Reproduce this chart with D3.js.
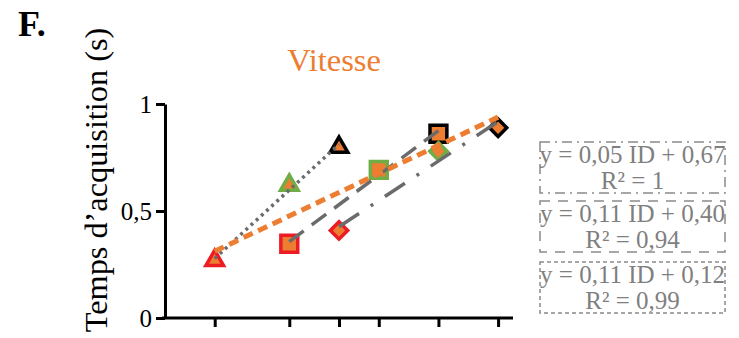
<!DOCTYPE html>
<html>
<head>
<meta charset="utf-8">
<script src="https://cdn.jsdelivr.net/npm/d3@7"></script>
<style>
  html, body { margin: 0; padding: 0; background: #fff; }
  svg text { font-family: "Liberation Serif", "DejaVu Serif", serif !important; }
</style>
</head>
<body>
<svg id="chart" width="739" height="338"></svg>
<script>
// ---- data ----
const panelLabel = "F.";
const title = "Vitesse";
const yLabel = "Temps d\u2019acquisition (s)";
const yTicks = [0, 0.5, 1];
const idValues = [1, 2.5, 3.5, 4.3, 5.5, 6.7];

const triangleIDs = [1, 2.5, 3.5];
const triangleTimes = [0.269, 0.621, 0.798];
const squareIDs = [2.5, 4.3, 5.5];
const squareTimes = [0.347, 0.692, 0.861];
const diamondIDs = [3.5, 5.5, 6.7];
const diamondTimes = [0.409, 0.779, 0.889];
const markerColors = ["#ED1C24", "#70AD47", "#000000"]; // per point within a group

const eqSlopes = [0.05, 0.11, 0.11];
const eqIntercepts = [0.67, 0.40, 0.12];
const eqR2 = ["1", "0,94", "0,99"];

// ---- setup ----
const FONT = "'Liberation Serif', 'DejaVu Serif', serif";
const svg = d3.select("#chart");
const x = d3.scaleLinear().domain([0, 7]).range([165, 513]);
const y = d3.scaleLinear().domain([0, 1]).range([318, 104]);
const comma = d => String(d).replace(".", ",");
const fmt2 = d => d3.format(".2f")(d).replace(".", ",");

// panel label and title
svg.append("text").attr("x", 18).attr("y", 36).style("font-family", FONT)
  .attr("font-size", 36).attr("font-weight", "bold").attr("fill", "#000").text(panelLabel);
svg.append("text").attr("x", 334).attr("y", 71).attr("text-anchor", "middle").style("font-family", FONT)
  .attr("font-size", 32.5).attr("fill", "#ED7D31").text(title);

// y label
svg.append("text").attr("transform", "translate(107,180) rotate(-90)").style("font-family", FONT)
  .attr("text-anchor", "middle").attr("font-size", 32.3).attr("fill", "#000").text(yLabel);

// axes
const yAxis = svg.append("g").attr("transform", "translate(165,0)")
  .call(d3.axisLeft(y).tickValues(yTicks).tickFormat(comma).tickSize(9).tickPadding(4).tickSizeOuter(0));
yAxis.attr("font-family", null);
yAxis.select(".domain").attr("stroke", "#000").attr("stroke-width", 3);
yAxis.selectAll(".tick line").attr("stroke", "#000").attr("stroke-width", 3);
yAxis.selectAll(".tick text").attr("font-size", 25).style("font-family", FONT).attr("fill", "#000").attr("dy", "0.34em");

const xAxis = svg.append("g").attr("transform", "translate(0,318)")
  .call(d3.axisBottom(x).tickValues(idValues).tickFormat("").tickSize(9).tickSizeOuter(0));
xAxis.select(".domain").attr("stroke", "#000").attr("stroke-width", 3).attr("d", `M${x.range()[0]-3},0H${x.range()[1]}`);
xAxis.selectAll(".tick line").attr("stroke", "#000").attr("stroke-width", 3);

// markers
const groups = [
  {ids: triangleIDs, times: triangleTimes, shape: "triangle"},
  {ids: squareIDs, times: squareTimes, shape: "square"},
  {ids: diamondIDs, times: diamondTimes, shape: "diamond"}
];
const symTri = d3.symbol().type(d3.symbolTriangle).size(135)();
const symSq = d3.symbol().type(d3.symbolSquare).size(285)();
const symDia = d3.symbol().type(d3.symbolSquare).size(150)();
const mg = svg.append("g");
groups.forEach(g => {
  g.ids.forEach((id, i) => {
    const p = mg.append("path")
      .attr("fill", "#ED7D31")
      .attr("stroke", markerColors[i])
      .attr("stroke-width", 3.5)
      .attr("stroke-linejoin", "miter");
    if (g.shape === "triangle") p.attr("d", symTri).attr("transform", `translate(${x(id)},${y(g.times[i])})`);
    if (g.shape === "square") p.attr("d", symSq).attr("transform", `translate(${x(id)},${y(g.times[i])})`);
    if (g.shape === "diamond") p.attr("d", symDia).attr("transform", `translate(${x(id)},${y(g.times[i])}) rotate(45)`);
  });
});

// regression helper
function fit(xs, ys) {
  const mx = d3.mean(xs), my = d3.mean(ys);
  let sxy = 0, sxx = 0;
  xs.forEach((v, i) => { sxy += (v - mx) * (ys[i] - my); sxx += (v - mx) ** 2; });
  const b = sxy / sxx; return {b, a: my - b * mx};
}
function drawFit(xs, ys, color, width, dash) {
  const f = fit(xs, ys);
  const x0 = d3.min(xs), x1 = d3.max(xs);
  svg.append("line")
    .attr("x1", x(x0)).attr("y1", y(f.a + f.b * x0))
    .attr("x2", x(x1)).attr("y2", y(f.a + f.b * x1))
    .attr("stroke", color).attr("stroke-width", width).attr("stroke-dasharray", dash);
}
drawFit(triangleIDs, triangleTimes, "#6b6b6b", 3.5, "3,4");
drawFit(squareIDs, squareTimes, "#6b6b6b", 3.5, "18,10");
drawFit(diamondIDs, diamondTimes, "#6b6b6b", 3.5, "24,14,3,14");
const allIDs = triangleIDs.concat(squareIDs, diamondIDs);
const allTimes = triangleTimes.concat(squareTimes, diamondTimes);
drawFit(allIDs, allTimes, "#ED7D31", 5, "10,6");

// equation boxes
const boxTops = [142, 201, 262];
const boxDash = ["10,5,2,5", "10,8", "4,3"];
eqSlopes.forEach((s, i) => {
  const g = svg.append("g").attr("transform", `translate(540,${boxTops[i]})`);
  g.append("rect").attr("x", 0).attr("y", 0).attr("width", 185).attr("height", 51)
    .attr("fill", "none").attr("stroke", "#8a8a8a").attr("stroke-width", 1.5).attr("stroke-dasharray", boxDash[i]);
  g.append("text").attr("x", 92.5).attr("y", 21).attr("text-anchor", "middle").style("font-family", FONT)
    .attr("font-size", 25).attr("fill", "#7f7f7f")
    .text(`y = ${fmt2(s)} ID + ${fmt2(eqIntercepts[i])}`);
  g.append("text").attr("x", 92.5).attr("y", 47).attr("text-anchor", "middle").style("font-family", FONT)
    .attr("font-size", 25).attr("fill", "#7f7f7f")
    .text(`R\u00B2 = ${eqR2[i]}`);
});
</script>
</body>
</html>
